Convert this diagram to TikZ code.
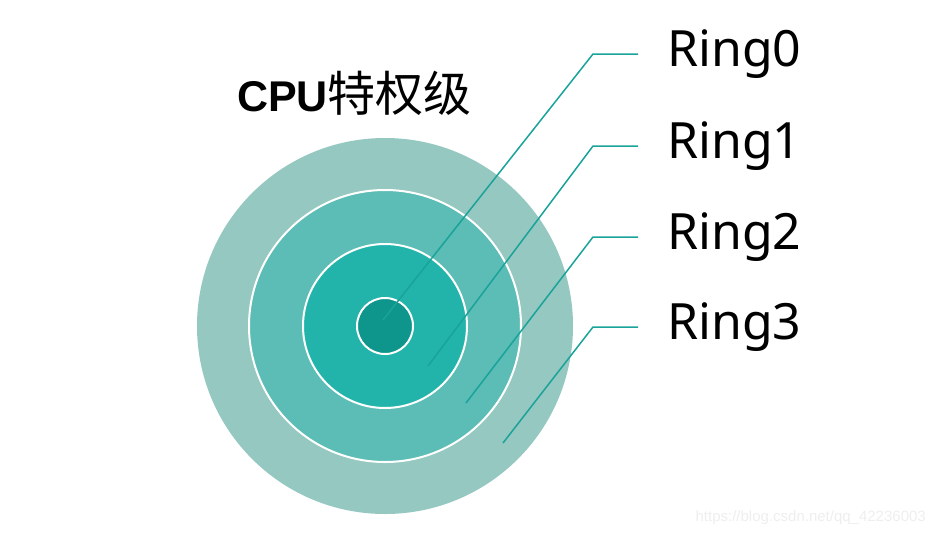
\documentclass[tikz,border=0pt]{standalone}
\usepackage{fontspec}
\setmainfont{Noto Sans}
\newfontfamily\titlefont{Liberation Sans}
\newfontfamily\cjk{Noto Sans CJK SC}
\usepackage{tikz}
\usetikzlibrary{positioning, calc}
\definecolor{ringA}{HTML}{95C8C1}
\definecolor{ringB}{HTML}{5BBDB5}
\definecolor{ringC}{HTML}{22B4AB}
\definecolor{ringD}{HTML}{0E958C}
\definecolor{leader}{HTML}{1AA39A}
\definecolor{mark}{HTML}{EEEEEE}

\begin{document}
\begin{tikzpicture}[
  x=1pt, y=-1pt,
  disc/.style={circle, inner sep=0pt, draw=white, line width=2pt},
  ringlabel/.style={anchor=west, inner sep=0pt, font=\fontsize{50}{58}\selectfont},
  lead/.style={draw=leader, line width=1.5pt, shorten >=29pt},
]
\useasboundingbox (0,0) rectangle (935,536);

% rings, outer first
\node[disc, draw=none, fill=ringA, minimum size=376pt] (ring3) at (385,326) {};
\node[disc, fill=ringB, minimum size=272pt] (ring2) at (385,326) {};
\node[disc, fill=ringC, minimum size=164pt] (ring1) at (385,326) {};
\node[disc, fill=ringD, minimum size=56pt] (ring0) at (385,326) {};

\node[anchor=west, inner sep=0pt] (title) at (237,93)
  {\titlefont\bfseries\fontsize{43}{48}\selectfont CPU\cjk\mdseries\fontsize{48}{52}\selectfont 特权级};

% labels and leaders
\foreach \i/\y/\tx/\ty in {0/54/383/320, 1/146/428/366, 2/237/466/403, 3/327/503/443}{
  \node[ringlabel] (lab\i) at (667,\y) {Ring\i};
  \coordinate (tip\i) at (\tx,\ty);
  \coordinate (bend\i) at (593,\y);
  \draw[lead] (tip\i) -- (bend\i) -- (lab\i.west);
}

\node[anchor=east, inner sep=0pt, text=mark, font=\titlefont\fontsize{15}{18}\selectfont] (wm) at (926,518)
  {https://blog.csdn.net/qq\_42236003};
\end{tikzpicture}
\end{document}
